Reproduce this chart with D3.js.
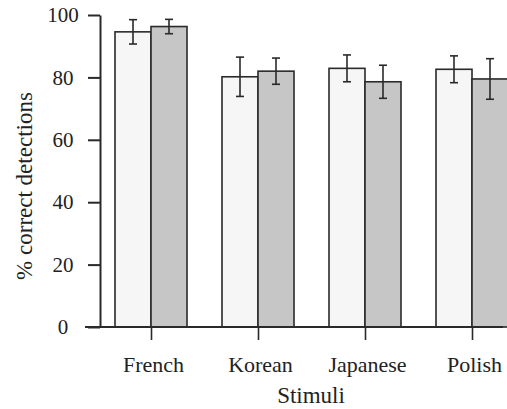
<!DOCTYPE html>
<html>
<head>
<meta charset="utf-8">
<script src="https://cdn.jsdelivr.net/npm/d3@7"></script>
<style>
  html, body { margin: 0; padding: 0; background: #fff; }
  svg { display: block; }
  text { font-family: "Liberation Serif", "Times New Roman", serif; fill: #222; }
</style>
</head>
<body>
<svg id="chart" width="507" height="409"></svg>
<script>
// Stimulus languages along the x axis
const categories = ["French", "Korean", "Japanese", "Polish"];
// Mean % correct detections for the two conditions (white and grey bars)
const whiteValues = [94.6, 80.2, 82.9, 82.6];
const greyValues  = [96.3, 82.0, 78.6, 79.5];
// Half-length of the error bars
const whiteErrors = [3.9, 6.3, 4.3, 4.3];
const greyErrors  = [2.3, 4.2, 5.3, 6.5];
// Y axis tick values
const yTicks = [0, 20, 40, 60, 80, 100];

const svg = d3.select("#chart");

const plot = { left: 100, right: 503, top: 15, bottom: 327 };
const barW = 36;

const y = d3.scaleLinear().domain([0, 100]).range([plot.bottom, plot.top]);
const x = d3.scalePoint().domain(categories).range([151, 472]);

const series = [
  { values: whiteValues, errors: whiteErrors, fill: "#f6f6f6", offset: -barW },
  { values: greyValues,  errors: greyErrors,  fill: "#c6c6c6", offset: 0 }
];

const ink = "#2a2a2a";

// Bars
series.forEach(s => {
  svg.append("g").selectAll("rect")
    .data(categories)
    .join("rect")
    .attr("x", (c) => x(c) + s.offset)
    .attr("y", (c, i) => y(s.values[i]))
    .attr("width", barW)
    .attr("height", (c, i) => y(0) - y(s.values[i]))
    .attr("fill", s.fill)
    .attr("stroke", ink)
    .attr("stroke-width", 1.6);
});

// Error bars
series.forEach(s => {
  const g = svg.append("g").attr("stroke", ink).attr("stroke-width", 1.6).attr("fill", "none");
  categories.forEach((c, i) => {
    const cx = x(c) + s.offset + barW / 2;
    const hi = y(s.values[i] + s.errors[i]);
    const lo = y(s.values[i] - s.errors[i]);
    g.append("line").attr("x1", cx).attr("x2", cx).attr("y1", hi).attr("y2", lo);
    g.append("line").attr("x1", cx - 4).attr("x2", cx + 4).attr("y1", hi).attr("y2", hi);
    g.append("line").attr("x1", cx - 4).attr("x2", cx + 4).attr("y1", lo).attr("y2", lo);
  });
});

// Y axis
const yAxis = svg.append("g")
  .attr("transform", `translate(${plot.left},0)`)
  .call(d3.axisLeft(y).tickValues(yTicks).tickSize(12).tickSizeOuter(0).tickPadding(0));
yAxis.select(".domain").attr("stroke", ink).attr("stroke-width", 2);
yAxis.selectAll(".tick line").attr("stroke", ink).attr("stroke-width", 2);
yAxis.selectAll(".tick text")
  .attr("x", -37)
  .attr("text-anchor", "middle")
  .attr("font-size", 21)
  .attr("font-family", "Liberation Serif")
  .attr("fill", "#222");

// X axis
const xAxis = svg.append("g")
  .attr("transform", `translate(0,${plot.bottom})`)
  .call(d3.axisBottom(x).tickSize(13).tickSizeOuter(0).tickPadding(16));
xAxis.select(".domain")
  .attr("d", `M${plot.left - 15},0H${plot.right}`)
  .attr("stroke", ink).attr("stroke-width", 2);
xAxis.selectAll(".tick line").attr("stroke", ink).attr("stroke-width", 1.6);
xAxis.selectAll(".tick text")
  .attr("font-size", 22)
  .attr("font-family", "Liberation Serif")
  .attr("fill", "#222")
  .attr("dx", 2);

// Axis titles
svg.append("text")
  .attr("transform", `translate(32,186) rotate(-90)`)
  .attr("text-anchor", "middle")
  .attr("font-size", 23)
  .text("% correct detections");

svg.append("text")
  .attr("x", 311)
  .attr("y", 403)
  .attr("text-anchor", "middle")
  .attr("font-size", 23)
  .text("Stimuli");
</script>
</body>
</html>
